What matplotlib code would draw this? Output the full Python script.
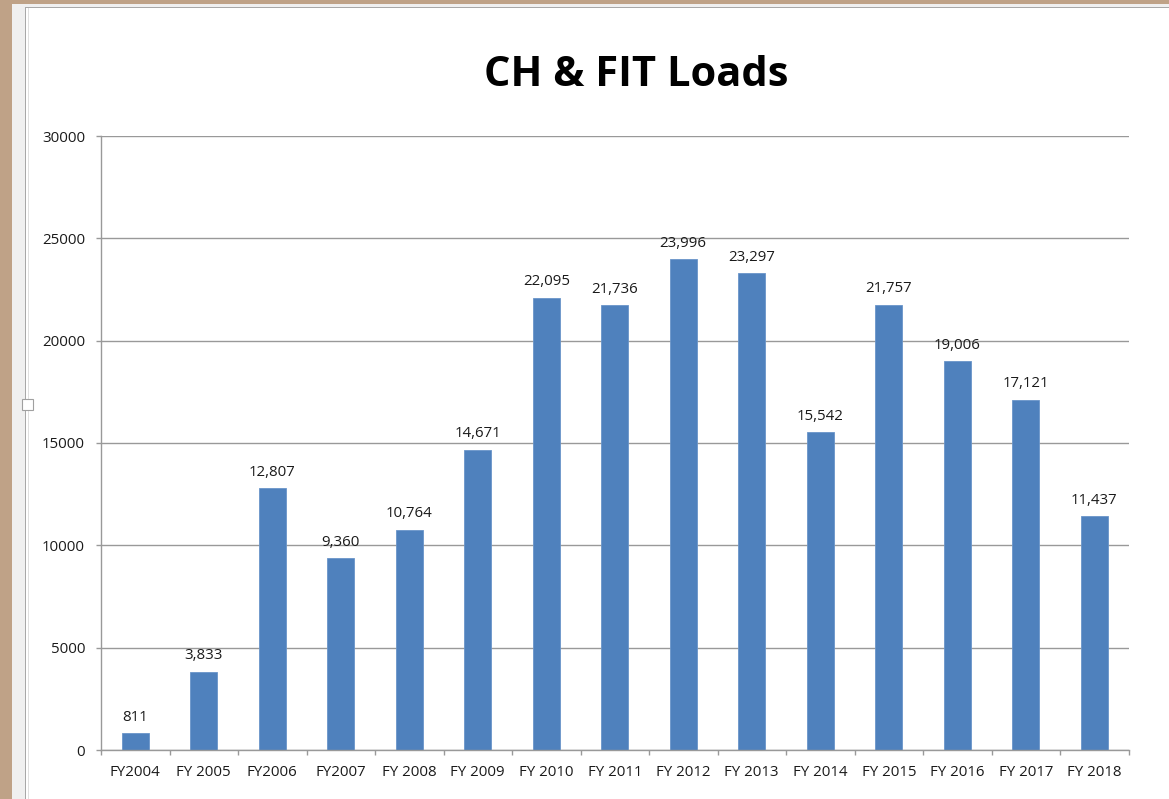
import matplotlib
matplotlib.use("Agg")
import matplotlib.pyplot as plt
from matplotlib.patches import Rectangle

categories = ["FY2004", "FY 2005", "FY2006", "FY2007", "FY 2008", "FY 2009", "FY 2010",
              "FY 2011", "FY 2012", "FY 2013", "FY 2014", "FY 2015", "FY 2016", "FY 2017", "FY 2018"]
values = [811, 3833, 12807, 9360, 10764, 14671, 22095, 21736, 23996, 23297,
          15542, 21757, 19006, 17121, 11437]
yticks = [0, 5000, 10000, 15000, 20000, 25000, 30000]
title = "CH & FIT Loads"

W, H = 1169, 799
fig = plt.figure(figsize=(W / 100, H / 100), dpi=100)
fig.patch.set_facecolor("white")

def px_rect(x0, y0, w, h, color, z=0):
    fig.patches.append(Rectangle((x0 / W, 1 - (y0 + h) / H), w / W, h / H,
                                 transform=fig.transFigure, facecolor=color,
                                 edgecolor="none", zorder=z))

# window frame
px_rect(0, 0, 12, H, "#bfa287")
px_rect(0, 0, W, 4, "#bfa287")
px_rect(12, 4, 13, H, "#f0f0f0")
px_rect(12, 4, W, 3, "#f0f0f0")
px_rect(25, 7, 1.2, H, "#a8a8a8")
px_rect(25, 7, W, 1.2, "#a8a8a8")
px_rect(28, 8, 1, H, "#e0e0e0")
fig.patches.append(Rectangle((21.5 / W, 1 - 409.5 / H), 11 / W, 11 / H,
                             transform=fig.transFigure, facecolor="white",
                             edgecolor="#a0a0a0", linewidth=0.8, zorder=3))

ax = fig.add_axes([101 / W, 1 - 750 / H, (1128.5 - 101) / W, (750 - 136) / H])
font = "Open Sans"
fs = 10.8
gc = "#999999"

x = list(range(len(categories)))
ax.bar(x, values, width=0.4, color="#4f81bd", edgecolor="#6a95c9",
       linewidth=0.6, zorder=2)
ax.set_xlim(-0.5, len(categories) - 0.5)
ax.set_ylim(0, 30000)
ax.set_yticks(yticks)
ax.set_yticklabels([str(v) for v in yticks], fontfamily=font, fontsize=fs, color="#1a1a1a")
ax.yaxis.grid(True, color=gc, linewidth=1.0, zorder=0)
ax.set_axisbelow(True)

ax.set_xticks(x)
ax.set_xticklabels(categories, fontfamily=font, fontsize=fs, color="#1a1a1a")
ax.set_xticks([i + 0.5 for i in range(-1, len(categories))], minor=True)
ax.tick_params(axis="x", which="major", length=0, pad=11)
ax.tick_params(axis="x", which="minor", length=3.5, color=gc, width=1)
ax.tick_params(axis="y", length=3.5, color=gc, width=1, pad=8)

for s in ["top", "right"]:
    ax.spines[s].set_visible(False)
for s in ["left", "bottom"]:
    ax.spines[s].set_color(gc)
    ax.spines[s].set_linewidth(1.0)

for xi, v in zip(x, values):
    ax.annotate(f"{v:,}", (xi, v), xytext=(0, 6), textcoords="offset points",
                ha="center", va="bottom", fontfamily=font, fontsize=fs, color="#1a1a1a")

fig.text(636 / W, 1 - 75 / H, title, ha="center", va="center",
         fontfamily=font, fontweight="bold", fontsize=30, color="black")

fig.savefig("out.png", dpi=100)
